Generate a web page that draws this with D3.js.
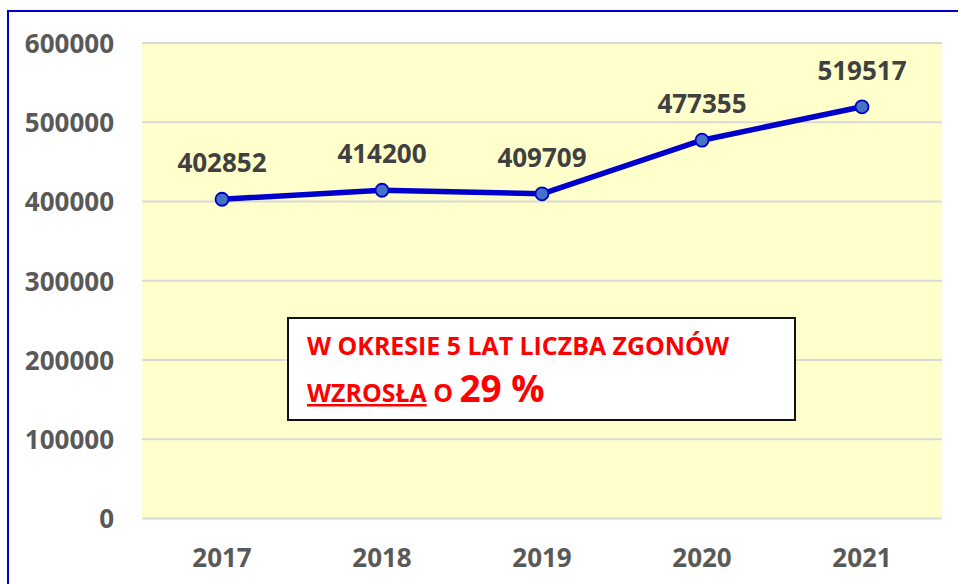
<!DOCTYPE html>
<html><head><meta charset="utf-8">
<script src="https://cdn.jsdelivr.net/npm/d3@7"></script>
<style>body{margin:0;background:#fff}svg{display:block}</style>
</head><body>
<svg id="c" width="958" height="584"></svg>
<script>
const years = ["2017","2018","2019","2020","2021"];
const deaths = [402852, 414200, 409709, 477355, 519517];
const yTicks = [0,100000,200000,300000,400000,500000,600000];
const noteLine1 = "W OKRESIE 5 LAT LICZBA ZGONÓW";
const noteWord = "WZROSŁA";
const noteO = "O";
const notePct = "29 %";

const svg = d3.select("#c");
const FONT = "'Open Sans', sans-serif";
const L = 142, R = 942, T = 43, B = 518.5;

// outer border
svg.append("rect").attr("x",8).attr("y",11).attr("width",1000).attr("height",1000)
  .attr("fill","none").attr("stroke","#0000CC").attr("stroke-width",2);

const x = d3.scaleBand().domain(years).range([L,R]);
const y = d3.scaleLinear().domain([0,600000]).range([B,T]);

svg.append("rect").attr("x",L).attr("y",T).attr("width",R-L).attr("height",B-T).attr("fill","#FFFFCC");

svg.append("g").selectAll("line").data(yTicks).join("line")
  .attr("x1",L).attr("x2",R).attr("y1",d=>y(d)).attr("y2",d=>y(d))
  .attr("stroke","#D9D9D9").attr("stroke-width",2);

// y axis
const ya = svg.append("g").attr("transform",`translate(${L-28},0)`)
  .call(d3.axisLeft(y).tickValues(yTicks).tickSize(0).tickPadding(0).tickFormat(d3.format("d")));
ya.select(".domain").remove();
ya.selectAll("text").attr("font-family",FONT).attr("font-weight","bold").attr("font-size","26px").attr("fill","#595959").attr("dy","0.36em");

// x axis
const xa = svg.append("g").attr("transform",`translate(0,${B})`)
  .call(d3.axisBottom(x).tickSize(0).tickPadding(0));
xa.select(".domain").remove();
xa.selectAll("text").attr("font-family",FONT).attr("font-weight","bold").attr("font-size","26px").attr("fill","#595959").attr("dy","0").attr("y",48);

const cx = d => x(d) + x.bandwidth()/2;
const pts = years.map((yr,i)=>({yr, v:deaths[i]}));

svg.append("path").datum(pts)
  .attr("d", d3.line().x(d=>cx(d.yr)).y(d=>y(d.v)))
  .attr("fill","none").attr("stroke","#0000CC").attr("stroke-width",5.5).attr("stroke-linejoin","round");

svg.append("g").selectAll("circle").data(pts).join("circle")
  .attr("cx",d=>cx(d.yr)).attr("cy",d=>y(d.v)).attr("r",6.5)
  .attr("fill","#4472C4").attr("stroke","#0000CC").attr("stroke-width",1.8);

svg.append("g").selectAll("text").data(pts).join("text")
  .attr("x",d=>cx(d.yr)).attr("y",d=>y(d.v)-27)
  .attr("text-anchor","middle").attr("font-family",FONT).attr("font-weight","bold")
  .attr("font-size","26px").attr("fill","#404040").text(d=>d.v);

// annotation box
svg.append("rect").attr("x",288).attr("y",318).attr("width",507).attr("height",102)
  .attr("fill","#fff").attr("stroke","#111").attr("stroke-width",2);

const t1 = svg.append("text").attr("x",307).attr("y",355).attr("font-family",FONT).attr("font-weight","bold")
  .attr("font-size","22px").attr("fill","#FF0000").text(noteLine1);
const w1 = t1.node().getComputedTextLength();
const fs = 22*422/w1;
t1.attr("font-size", fs.toFixed(2)+"px");

const t2 = svg.append("text").attr("x",307).attr("y",402).attr("font-family",FONT).attr("font-weight","bold").attr("fill","#FF0000");
t2.append("tspan").attr("font-size",fs+"px").attr("text-decoration","underline").text(noteWord);
t2.append("tspan").attr("font-size",fs+"px").text(" "+noteO+" ");
t2.append("tspan").attr("font-size","37px").text(notePct);
</script>
</body></html>
